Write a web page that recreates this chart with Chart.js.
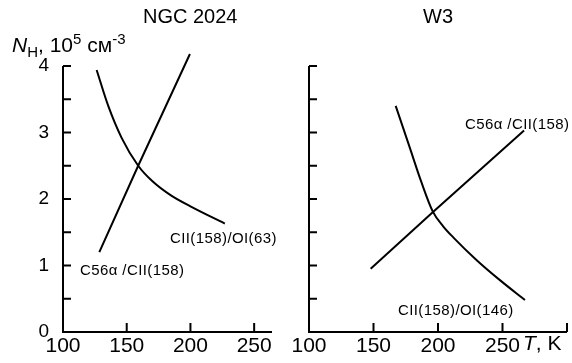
<!DOCTYPE html>
<html>
<head>
<meta charset="utf-8">
<script src="https://cdn.jsdelivr.net/npm/chart.js@4.4.1/dist/chart.umd.min.js"></script>
<style>
  html, body { margin: 0; padding: 0; background: #fff; }
  #wrap { position: relative; width: 572px; height: 363px; font-family: "Liberation Sans", Arial, sans-serif; color: #000; }
  .panel { position: absolute; top: 0; height: 363px; }
  .lbl { position: absolute; white-space: nowrap; line-height: 1; }
  .curve { font-size: 15px; letter-spacing: 0.4px; }
  sub, sup { font-size: 15px; line-height: 0; }
</style>
</head>
<body>
<div id="wrap">
  <div class="panel" style="left:0;width:290px"><canvas id="left"></canvas></div>
  <div class="panel" style="left:290px;width:282px"><canvas id="right"></canvas></div>

  <div class="lbl" style="left:143px;top:6px;font-size:20px">NGC 2024</div>
  <div class="lbl" style="left:423px;top:6px;font-size:20px">W3</div>
  <div class="lbl" style="left:12px;top:34px;font-size:21px"><i>N</i><sub>H</sub>, 10<sup>5</sup> см<sup>-3</sup></div>
  <div class="lbl" style="left:523px;top:332px;font-size:21px"><i>T</i>, K</div>

  <div class="lbl curve" style="left:170px;top:230px">CII(158)/OI(63)</div>
  <div class="lbl curve" style="left:80px;top:262px">C56α /CII(158)</div>
  <div class="lbl curve" style="left:465px;top:116px">C56α /CII(158)</div>
  <div class="lbl curve" style="left:398px;top:302px">CII(158)/OI(146)</div>
</div>
<script>
// NGC 2024 panel
const ngcOiT = [126.4, 135.5, 146, 159, 170, 185, 200, 227];
const ngcOiN = [3.94, 3.40, 2.92, 2.50, 2.27, 2.05, 1.89, 1.63];
const ngcCaT = [128.5, 159, 199.6];
const ngcCaN = [1.20, 2.50, 4.18];

// W3 panel
const w3OiT = [167.2, 178, 187, 196, 204, 212, 230, 248, 267.4];
const w3OiN = [3.40, 2.78, 2.26, 1.81, 1.59, 1.42, 1.08, 0.78, 0.48];
const w3CaT = [147.8, 195.9, 266.7];
const w3CaN = [0.95, 1.80, 3.03];

// axes
const yTicks = [0, 0.5, 1, 1.5, 2, 2.5, 3, 3.5, 4];
const yLabels = ["0", "", "1", "", "2", "", "3", "", "4"];
const xTicksLeft = [100, 150, 200, 250];
const xLabelsLeft = ["100", "150", "200", "250"];
const xTicksRight = [100, 150, 200, 250, 300];
const xLabelsRight = ["100", "150", "200", "250", ""];

function toPoints(xs, ys) {
  return xs.map((x, i) => ({ x: x, y: ys[i] }));
}

// axis lines with inward tick marks
const inwardAxes = {
  id: "inwardAxes",
  afterDatasetsDraw(chart) {
    const ctx = chart.ctx;
    const a = chart.chartArea;
    const x = chart.scales.x;
    const y = chart.scales.y;
    ctx.save();
    ctx.strokeStyle = "#000";
    ctx.lineWidth = 2;
    ctx.beginPath();
    ctx.moveTo(a.left, a.top);
    ctx.lineTo(a.left, a.bottom);
    ctx.lineTo(a.right, a.bottom);
    y.ticks.forEach((t) => {
      if (t.value === y.min) return;
      const py = y.getPixelForValue(t.value);
      ctx.moveTo(a.left, py);
      ctx.lineTo(a.left + 8, py);
    });
    x.ticks.forEach((t) => {
      if (t.value === x.min) return;
      const px = x.getPixelForValue(t.value);
      ctx.moveTo(px, a.bottom);
      ctx.lineTo(px, a.bottom - 9);
    });
    ctx.stroke();
    ctx.restore();
  },
};

function makeChart(id, opt) {
  const lineStyle = { borderColor: "#000", borderWidth: 2, pointRadius: 0, showLine: true, clip: false };
  return new Chart(document.getElementById(id), {
    type: "scatter",
    data: {
      datasets: [
        Object.assign({ data: opt.curve, cubicInterpolationMode: "monotone" }, lineStyle),
        Object.assign({ data: opt.line, tension: 0 }, lineStyle),
      ],
    },
    options: {
      responsive: true,
      maintainAspectRatio: false,
      animation: false,
      layout: { padding: { top: 66, right: opt.padRight, left: 0, bottom: 0 } },
      plugins: { legend: { display: false }, tooltip: { enabled: false } },
      scales: {
        x: {
          type: "linear",
          min: 100,
          max: opt.xMax,
          grid: { display: false },
          border: { display: false },
          afterBuildTicks: (s) => { s.ticks = opt.xTicks.map((v) => ({ value: v })); },
          afterFit: (s) => { s.height = 31; },
          ticks: {
            autoSkip: false,
            maxRotation: 0,
            padding: -6,
            color: "#000",
            font: { family: "Liberation Sans", size: 21 },
            callback: (v, i) => opt.xLabels[i],
          },
        },
        y: {
          type: "linear",
          min: 0,
          max: 4,
          grid: { display: false },
          border: { display: false },
          afterBuildTicks: (s) => { s.ticks = yTicks.map((v) => ({ value: v })); },
          afterFit: (s) => { s.width = opt.yWidth; },
          ticks: {
            display: opt.yLabelsOn,
            autoSkip: false,
            padding: 6,
            color: "#000",
            font: { family: "Liberation Sans", size: 19 },
            callback: (v, i) => yLabels[i],
          },
        },
      },
    },
    plugins: [inwardAxes],
  });
}

makeChart("left", {
  curve: toPoints(ngcOiT, ngcOiN),
  line: toPoints(ngcCaT, ngcCaN),
  xMax: 264,
  xTicks: xTicksLeft,
  xLabels: xLabelsLeft,
  yWidth: 63,
  yLabelsOn: true,
  padRight: 18,
});

makeChart("right", {
  curve: toPoints(w3OiT, w3OiN),
  line: toPoints(w3CaT, w3CaN),
  xMax: 300,
  xTicks: xTicksRight,
  xLabels: xLabelsRight,
  yWidth: 19,
  yLabelsOn: false,
  padRight: 5,
});
</script>
</body>
</html>
